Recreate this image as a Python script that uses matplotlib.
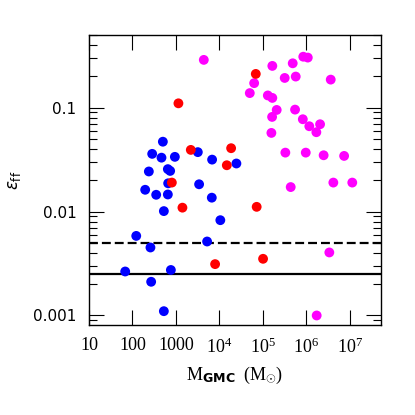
import numpy as np
import matplotlib
matplotlib.use('Agg')
import matplotlib.pyplot as plt
from matplotlib.ticker import FixedLocator, LogLocator, NullFormatter

plt.rcParams['mathtext.fontset'] = 'custom'
plt.rcParams['mathtext.rm'] = 'Liberation Serif'
plt.rcParams['mathtext.bf'] = 'DejaVu Sans:bold'
plt.rcParams['mathtext.it'] = 'Liberation Serif:italic'

# blue clouds
blue_m = [500, 284, 465, 944, 3187, 6790, 24600, 238, 651, 736, 662, 3410,
          196, 351, 651, 6680, 527, 10500, 122, 259, 5210, 68, 764, 269, 527]
blue_e = [0.047, 0.0359, 0.033, 0.0336, 0.0373, 0.0316, 0.029, 0.0243, 0.0256,
          0.0246, 0.0187, 0.0183, 0.0162, 0.0145, 0.0146, 0.0136, 0.0101,
          0.00826, 0.00583, 0.00451, 0.00515, 0.00265, 0.00274, 0.00211, 0.0011]

# magenta clouds
mag_m = [4375, 1.65e5, 4.86e5, 8.5e5, 1.08e6, 3.18e5, 5.7e5, 3.64e6, 6.3e4,
         5.0e4, 1.3e5, 1.65e5, 2.08e5, 5.5e5, 1.63e5, 8.3e5, 1.17e6, 2.07e6,
         1.7e6, 1.57e5, 3.29e5, 9.7e5, 2.5e6, 7.4e6, 4.37e5, 4.18e6, 1.14e7,
         3.38e6, 1.73e6]
mag_e = [0.288, 0.252, 0.267, 0.309, 0.303, 0.193, 0.199, 0.186, 0.172,
         0.138, 0.131, 0.124, 0.095, 0.0957, 0.0814, 0.0773, 0.0662, 0.0692,
         0.058, 0.0571, 0.0369, 0.0369, 0.0348, 0.0343, 0.0172, 0.019, 0.019,
         0.00404, 0.001]

# red clouds
red_m = [1140, 6.87e4, 2197, 1.86e4, 1.48e4, 805, 1410, 7.2e4, 7960, 1.01e5]
red_e = [0.110, 0.211, 0.0392, 0.0407, 0.0279, 0.019, 0.0109, 0.0111,
         0.00312, 0.00351]

dash_level = 0.005
solid_level = 0.0025

xticks = [10, 100, 1000, 1e4, 1e5, 1e6, 1e7]
xticklabels = ['10', '100', '1000', '$10^4$', '$10^5$', '$10^6$', '$10^7$']
yticks = [0.001, 0.01, 0.1]
yticklabels = ['0.001', '0.01', '0.1']

fig = plt.figure(figsize=(4.15, 4.15), dpi=100)
ax = fig.add_axes([0.2145, 0.2169, 0.7025, 0.6988])

ms = 50
ax.scatter(blue_m, blue_e, s=ms, c='#0000ff', edgecolors='none', zorder=3)
ax.scatter(mag_m, mag_e, s=ms, c='#ff00ff', edgecolors='none', zorder=3)
ax.scatter(red_m, red_e, s=ms, c='#ff0000', edgecolors='none', zorder=3)

ax.axhline(dash_level, color='black', lw=1.6, ls=(0, (4.0, 1.8)), zorder=2)
ax.axhline(solid_level, color='black', lw=1.6, zorder=2)

ax.set_xscale('log')
ax.set_yscale('log')
ax.set_xlim(10, 5.1e7)
ax.set_ylim(8.1e-4, 0.5)

ax.xaxis.set_major_locator(FixedLocator(xticks))
ax.set_xticklabels(xticklabels, fontfamily='Liberation Serif', fontsize=13)
ax.yaxis.set_major_locator(FixedLocator(yticks))
ax.set_yticklabels(yticklabels, fontfamily='DejaVu Sans', fontsize=11)
ax.xaxis.set_minor_locator(LogLocator(base=10, subs=np.arange(2, 10)))
ax.yaxis.set_minor_locator(LogLocator(base=10, subs=np.arange(2, 10)))
ax.xaxis.set_minor_formatter(NullFormatter())
ax.yaxis.set_minor_formatter(NullFormatter())

ax.tick_params(which='both', direction='in', top=True, right=True, width=0.8)
ax.tick_params(which='major', length=11, pad=9)
ax.tick_params(which='minor', length=5.5)
for sp in ax.spines.values():
    sp.set_linewidth(1.0)

ax.set_xlabel(r'$\mathrm{M}_{\mathbf{GMC}}\ \ (\mathrm{M}_{\odot})$', fontsize=13, labelpad=6)
ax.set_ylabel(r'$\epsilon_{\mathrm{ff}}$', fontsize=12, labelpad=7,
              math_fontfamily='dejavusans')

fig.savefig('out.png', dpi=100)
